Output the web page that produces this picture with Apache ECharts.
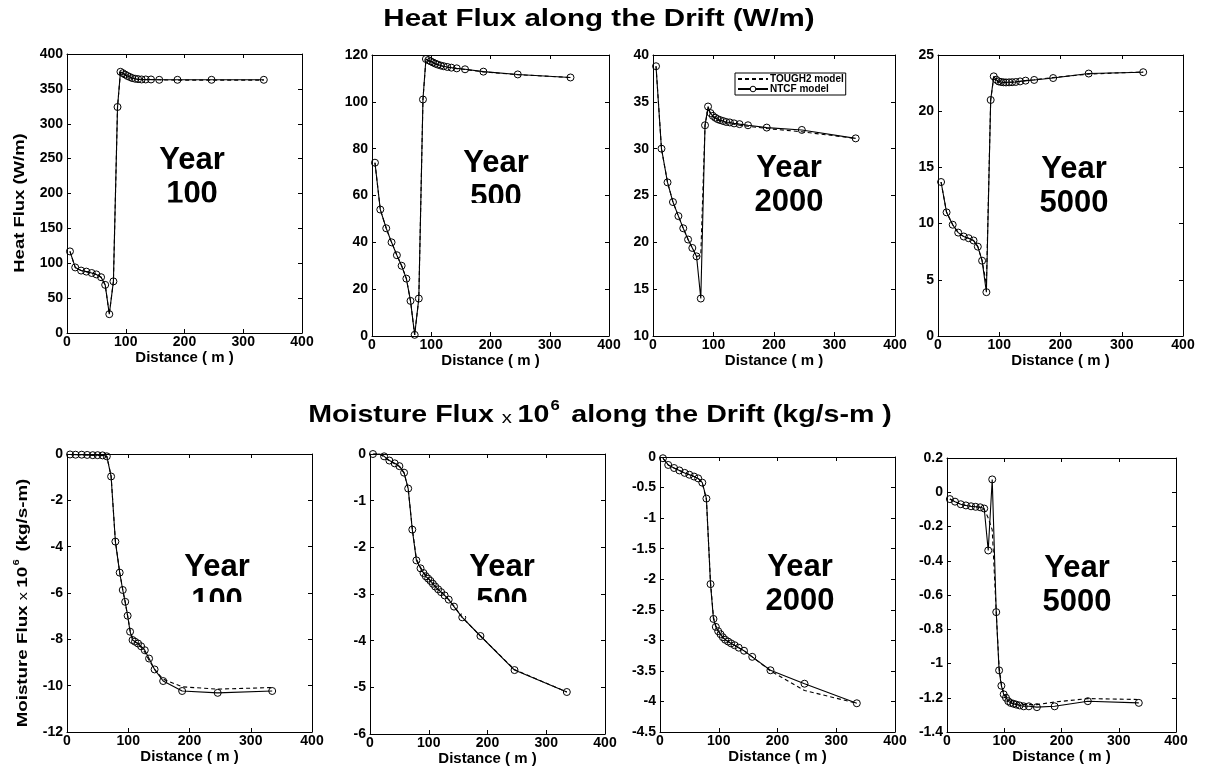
<!DOCTYPE html>
<html>
<head>
<meta charset="utf-8">
<script src="https://cdn.jsdelivr.net/npm/echarts@6.0.0/dist/echarts.min.js"></script>
<style>
  html, body { margin: 0; padding: 0; background: #fff; }
  #chart { width: 1205px; height: 774px; }
</style>
</head>
<body>
<div id="chart"></div>
<script>
// Distance along the drift (m) for every profile
const distance = [5, 14, 24, 33, 42, 50, 58, 65, 72, 79, 86, 91, 95, 99, 103, 107, 111, 116, 121, 127, 134, 143, 157, 188, 246, 335];

// Heat flux along the drift (W/m)
const heat100Ntcf  = [117, 94, 89.5, 88, 86, 84, 80, 69, 27, 74, 324, 374.5, 372.5, 370.5, 368.5, 367, 365.5, 364.5, 364, 363.5, 363.5, 363.5, 363, 363, 363, 363];
const heat100Tough = [117, 94, 89.5, 88, 86, 84, 80, 69, 27, 74, 324, 374, 372, 370, 368, 366.5, 365, 364, 363.5, 363.5, 363, 363, 363, 362.5, 362.5, 362.5];
const heat500Ntcf  = [74, 54, 46, 40, 34.5, 30, 24.5, 15, 0.5, 16, 101, 118.3, 117.8, 117.3, 116.8, 116.3, 115.9, 115.5, 115.2, 114.9, 114.6, 114.3, 113.9, 112.9, 111.7, 110.4];
const heat500Tough = [74, 54, 46, 40, 34.5, 30, 24.5, 15, 0.5, 16, 101, 118, 117.6, 117.1, 116.7, 116.2, 115.8, 115.4, 115.1, 114.8, 114.5, 114.2, 113.8, 112.8, 111.6, 110.4];
const heat2000Ntcf  = [38.8, 30.0, 26.4, 24.3, 22.8, 21.5, 20.3, 19.4, 18.5, 14.0, 32.5, 34.5, 33.8, 33.5, 33.3, 33.15, 33.05, 32.95, 32.85, 32.8, 32.7, 32.62, 32.5, 32.25, 32.0, 31.1];
const heat2000Tough = [38.8, 30.0, 26.4, 24.3, 22.8, 21.5, 20.3, 19.4, 18.5, 18.6, 32.5, 34.3, 33.7, 33.4, 33.2, 33.05, 32.95, 32.85, 32.75, 32.7, 32.6, 32.5, 32.4, 32.15, 31.8, 31.1];
const heat5000Ntcf  = [13.7, 11.0, 9.9, 9.2, 8.85, 8.7, 8.5, 7.95, 6.7, 3.9, 21.0, 23.1, 22.8, 22.65, 22.6, 22.57, 22.56, 22.57, 22.58, 22.6, 22.65, 22.72, 22.78, 22.95, 23.35, 23.47];
const heat5000Tough = [13.7, 11.0, 9.9, 9.2, 8.85, 8.7, 8.5, 7.95, 6.7, 4.6, 21.0, 23.0, 22.75, 22.6, 22.55, 22.55, 22.55, 22.57, 22.6, 22.62, 22.66, 22.72, 22.8, 23.0, 23.3, 23.5];

// Moisture flux along the drift (x 10^6 kg/s-m)
const moist100Ntcf  = [-0.02, -0.03, -0.03, -0.04, -0.05, -0.05, -0.06, -0.1, -0.97, -3.78, -5.12, -5.87, -6.38, -6.98, -7.67, -8.03, -8.1, -8.18, -8.3, -8.47, -8.83, -9.3, -9.8, -10.23, -10.31, -10.23];
const moist100Tough = [-0.02, -0.03, -0.03, -0.04, -0.05, -0.05, -0.06, -0.1, -0.95, -3.75, -5.1, -5.85, -6.4, -7.0, -7.6, -7.95, -8.1, -8.2, -8.35, -8.55, -8.9, -9.3, -9.72, -10.05, -10.15, -10.08];
const moist500Ntcf  = [0.0, 0.02, -0.05, -0.14, -0.2, -0.26, -0.4, -0.74, -1.62, -2.28, -2.45, -2.55, -2.62, -2.67, -2.72, -2.78, -2.84, -2.9, -2.96, -3.03, -3.12, -3.27, -3.5, -3.9, -4.63, -5.1];
const moist500Tough = [0.0, 0.01, -0.06, -0.15, -0.21, -0.27, -0.41, -0.75, -1.6, -2.25, -2.43, -2.53, -2.6, -2.66, -2.72, -2.78, -2.84, -2.9, -2.96, -3.03, -3.12, -3.26, -3.5, -3.9, -4.62, -5.1];
const moist2000Ntcf  = [-0.02, -0.13, -0.18, -0.22, -0.26, -0.29, -0.32, -0.35, -0.42, -0.68, -2.08, -2.65, -2.78, -2.85, -2.9, -2.95, -2.99, -3.02, -3.05, -3.08, -3.12, -3.17, -3.27, -3.49, -3.71, -4.03];
const moist2000Tough = [-0.02, -0.13, -0.18, -0.22, -0.26, -0.29, -0.32, -0.35, -0.43, -0.7, -2.05, -2.62, -2.76, -2.84, -2.9, -2.95, -2.99, -3.02, -3.05, -3.08, -3.12, -3.17, -3.27, -3.5, -3.82, -4.03];
const moist5000Ntcf  = [-0.04, -0.055, -0.07, -0.077, -0.082, -0.085, -0.088, -0.095, -0.34, 0.075, -0.7, -1.04, -1.13, -1.18, -1.2, -1.22, -1.23, -1.235, -1.24, -1.245, -1.25, -1.25, -1.255, -1.25, -1.22, -1.23];
const moist5000Tough = [-0.04, -0.055, -0.07, -0.077, -0.082, -0.085, -0.088, -0.1, -0.15, -0.22, -0.7, -1.02, -1.12, -1.17, -1.19, -1.21, -1.22, -1.23, -1.235, -1.24, -1.24, -1.24, -1.24, -1.225, -1.205, -1.21];

// Axis ranges and labels
const yearLabels = ['100', '500', '2000', '5000', '100', '500', '2000', '5000'];
const yRanges = [
  [0, 400, 50], [0, 120, 20], [10, 40, 5], [0, 25, 5],
  [-12, 0, 2], [-6, 0, 1], [-4.5, 0, 0.5], [-1.4, 0.2, 0.2]
];
const ntcfSeries  = [heat100Ntcf, heat500Ntcf, heat2000Ntcf, heat5000Ntcf, moist100Ntcf, moist500Ntcf, moist2000Ntcf, moist5000Ntcf];
const toughSeries = [heat100Tough, heat500Tough, heat2000Tough, heat5000Tough, moist100Tough, moist500Tough, moist2000Tough, moist5000Tough];
const xTitle = 'Distance ( m )';
const seriesNames = ['TOUGH2 model', 'NTCF model'];

// Layout of the eight panels (pixels)
const panelBoxes = [
  { left: 67,  top: 54,  width: 235, height: 279 },
  { left: 372, top: 55,  width: 237, height: 281 },
  { left: 653, top: 55,  width: 242, height: 281 },
  { left: 938, top: 55,  width: 245, height: 281 },
  { left: 67,  top: 454, width: 245, height: 278 },
  { left: 370, top: 454, width: 235, height: 280 },
  { left: 660, top: 457, width: 235, height: 275 },
  { left: 947, top: 458, width: 229, height: 274 }
];
// Centre of the "Year / nnnn" annotation in each panel, and the cut-off line for the clipped digits
const yearSpots = [
  { x: 192, y: 160, cut: 202.5 }, { x: 496, y: 163, cut: 203 }, { x: 789, y: 168 }, { x: 1074, y: 169 },
  { x: 217, y: 567, cut: 602 },   { x: 502, y: 567, cut: 602 }, { x: 800, y: 567 }, { x: 1077, y: 568 }
];

const FONT = '"Liberation Sans", Arial, Helvetica, sans-serif';
const BLACK = '#000';

const grid = [], xAxis = [], yAxis = [], series = [], graphic = [];

panelBoxes.forEach((box, i) => {
  grid.push({ left: box.left, top: box.top, width: box.width, height: box.height, containLabel: false });
  const lineAxis = {
    axisLine: { show: true, onZero: false, lineStyle: { color: BLACK, width: 1 } },
    axisTick: { show: true, inside: true, length: 4, lineStyle: { color: BLACK, width: 1 } },
    splitLine: { show: false }
  };
  const tickFont = { color: BLACK, fontSize: 14, fontWeight: 'bold', fontFamily: FONT };
  xAxis.push(Object.assign({
    gridIndex: i, type: 'value', position: 'bottom', min: 0, max: 400, interval: 100,
    axisLabel: Object.assign({ margin: 2 }, tickFont),
    name: xTitle, nameLocation: 'middle', nameGap: i < 4 ? 17 : 13,
    nameTextStyle: { color: BLACK, fontSize: 15, fontWeight: 'bold', fontFamily: FONT }
  }, lineAxis));
  xAxis.push(Object.assign({
    gridIndex: i, type: 'value', position: 'top', min: 0, max: 400, interval: 100,
    axisLabel: { show: false }
  }, lineAxis));
  const [ymin, ymax, yint] = yRanges[i];
  yAxis.push(Object.assign({
    gridIndex: i, type: 'value', position: 'left', min: ymin, max: ymax, interval: yint,
    axisLabel: Object.assign({ margin: 4 }, tickFont)
  }, lineAxis));
  yAxis.push(Object.assign({
    gridIndex: i, type: 'value', position: 'right', min: ymin, max: ymax, interval: yint,
    axisLabel: { show: false }
  }, lineAxis));

  series.push({
    name: seriesNames[0], type: 'line',
    xAxisIndex: 2 * i, yAxisIndex: 2 * i,
    data: distance.map((d, k) => [d, toughSeries[i][k]]),
    symbol: 'none', color: BLACK,
    itemStyle: { color: 'rgba(0,0,0,0)', borderWidth: 0 },
    lineStyle: { color: BLACK, width: 1.1, type: [4, 3] },
    animation: false, z: 2
  });
  series.push({
    name: seriesNames[1], type: 'line',
    xAxisIndex: 2 * i, yAxisIndex: 2 * i,
    data: distance.map((d, k) => [d, ntcfSeries[i][k]]),
    symbol: 'circle', symbolSize: 7, showAllSymbol: true, color: BLACK,
    itemStyle: { color: 'rgba(0,0,0,0)', borderColor: BLACK, borderWidth: 1 },
    lineStyle: { color: BLACK, width: 1.1 },
    animation: false, z: 3
  });

  // Year annotation
  const spot = yearSpots[i];
  graphic.push({
    type: 'text', x: spot.x, y: spot.y, z: 10,
    style: { text: 'Year', fill: BLACK, font: 'bold 31px ' + FONT, align: 'center', verticalAlign: 'middle' }
  });
  graphic.push({
    type: 'text', x: spot.x, y: spot.y + 34, z: 10,
    style: { text: yearLabels[i], fill: BLACK, font: 'bold 31px ' + FONT, align: 'center', verticalAlign: 'middle' }
  });
  if (spot.cut) {
    graphic.push({
      type: 'rect', z: 11,
      shape: { x: spot.x - 40, y: spot.cut, width: 80, height: 14 },
      style: { fill: '#fff' }
    });
  }
});

// Row titles (wide bold lettering)
graphic.push({
  type: 'text', x: 599, y: 19, scaleX: 1.23, z: 10,
  style: { text: 'Heat Flux along the Drift (W/m)', fill: BLACK, font: 'bold 24px ' + FONT, align: 'center', verticalAlign: 'middle' }
});
graphic.push({
  type: 'text', x: 600, y: 413, scaleX: 1.19, z: 10,
  style: {
    text: '{b|Moisture Flux }{s|x }{b|10}{sup|6}{b| along the Drift (kg/s-m )}',
    align: 'center', verticalAlign: 'middle',
    rich: {
      b: { fill: BLACK, font: 'bold 24px ' + FONT, lineHeight: 28, verticalAlign: 'bottom' },
      s: { fill: BLACK, font: '17px ' + FONT, lineHeight: 28, verticalAlign: 'bottom' },
      sup: { fill: BLACK, font: 'bold 14px ' + FONT, lineHeight: 28, verticalAlign: 'top', padding: [0, 3, 0, 1] }
    }
  }
});

// Vertical axis titles
graphic.push({
  type: 'text', x: 20, y: 203, rotation: Math.PI / 2, scaleX: 1.23, z: 10,
  style: { text: 'Heat Flux (W/m)', fill: BLACK, font: 'bold 15px ' + FONT, align: 'center', verticalAlign: 'middle' }
});
graphic.push({
  type: 'text', x: 21, y: 603, rotation: Math.PI / 2, scaleX: 1.25, z: 10,
  style: {
    text: '{b|Moisture Flux }{s|x }{b|10}{sup|6}{b| (kg/s-m)}',
    align: 'center', verticalAlign: 'middle',
    rich: {
      b: { fill: BLACK, font: 'bold 15px ' + FONT, lineHeight: 18, verticalAlign: 'bottom' },
      s: { fill: BLACK, font: '13px ' + FONT, lineHeight: 18, verticalAlign: 'bottom' },
      sup: { fill: BLACK, font: 'bold 9px ' + FONT, lineHeight: 18, verticalAlign: 'top', padding: [0, 2, 0, 1] }
    }
  }
});

const option = {
  backgroundColor: '#fff',
  animation: false,
  legend: {
    data: [
      { name: seriesNames[0], itemStyle: { color: 'rgba(0,0,0,0)', borderWidth: 0 } },
      { name: seriesNames[1], itemStyle: { color: '#fff', borderColor: BLACK, borderWidth: 1 } }
    ],
    orient: 'vertical', left: 735, top: 73,
    itemWidth: 30, itemHeight: 7, itemGap: 0,
    padding: [1, 2, 1, 2],
    borderColor: BLACK, borderWidth: 1, backgroundColor: '#fff',
    selectedMode: false,
    textStyle: { color: BLACK, fontSize: 10, lineHeight: 7, fontWeight: 'bold', fontFamily: FONT, padding: [0, 0, 0, -3] }
  },
  grid, xAxis, yAxis, series, graphic
};

const chart = echarts.init(document.getElementById('chart'), null, { renderer: 'canvas' });
chart.setOption(option);
</script>
</body>
</html>
